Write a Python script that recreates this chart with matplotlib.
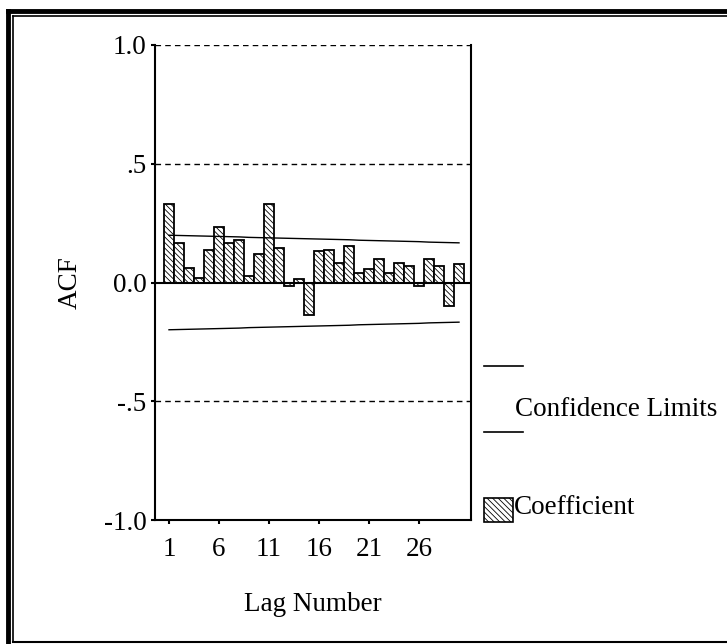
import numpy as np
import matplotlib
matplotlib.use("Agg")
import matplotlib.pyplot as plt
from matplotlib.lines import Line2D
from matplotlib.patches import Rectangle

plt.rcParams['font.family'] = ['Liberation Serif', 'DejaVu Serif']
plt.rcParams['hatch.linewidth'] = 0.6
plt.rcParams['hatch.color'] = '#555555'

# data
lags = list(range(1, 31))
acf = [0.329, 0.167, 0.063, 0.021, 0.137, 0.234, 0.167, 0.181, 0.028, 0.118,
       0.329, 0.146, -0.013, 0.014, -0.135, 0.132, 0.137, 0.081, 0.153, 0.042,
       0.056, 0.098, 0.042, 0.081, 0.070, -0.013, 0.098, 0.070, -0.101, 0.076]
upper = [0.199, 0.198, 0.197, 0.196, 0.195, 0.194, 0.193, 0.192, 0.190, 0.189,
         0.188, 0.187, 0.186, 0.185, 0.184, 0.183, 0.182, 0.181, 0.180, 0.178,
         0.177, 0.176, 0.175, 0.174, 0.173, 0.172, 0.170, 0.169, 0.168, 0.167]
lower = [-u for u in upper]
xticks = [1, 6, 11, 16, 21, 26]
yticks = [-1.0, -0.5, 0.0, 0.5, 1.0]
ytick_labels = ['-1.0', '-.5', '0.0', '.5', '1.0']

fs = 19.5

fig = plt.figure(figsize=(7.27, 6.44), dpi=100)
W, H = 727, 644
ax = fig.add_axes([155 / W, 1 - 520 / H, (471 - 155) / W, (520 - 45) / H])

ax.bar(lags, acf, width=1.0, facecolor='white', edgecolor='black',
       linewidth=1.3, hatch='\\\\\\\\\\\\', zorder=3)
ax.plot(lags, upper, color='black', lw=1.0, zorder=4)
ax.plot(lags, lower, color='black', lw=1.0, zorder=4)

ax.axhline(0, color='black', lw=1.5, zorder=5)
for yv in [0.5, -0.5, 1.0]:
    ax.axhline(yv, color='black', lw=1.0, ls=(0, (4, 3)), zorder=2)

ax.set_xlim(-0.4, 31.2)
ax.set_ylim(-1.0, 1.0)
ax.set_xticks(xticks)
ax.set_yticks(yticks)
ax.set_yticklabels(ytick_labels)
ax.tick_params(labelsize=fs, length=3, width=1.5, direction='out')
ax.tick_params(axis='y', pad=3)
ax.tick_params(axis='x', pad=9)
ax.spines['top'].set_visible(False)
for s in ['left', 'bottom', 'right']:
    ax.spines[s].set_linewidth(1.5)

ax.set_xlabel('Lag Number', fontsize=fs, labelpad=22)
ax.set_ylabel('ACF', fontsize=fs, labelpad=15)

# legend drawn by hand in figure pixels
def fx(x):
    return x / W

def fy(y):
    return 1 - y / H

fig.add_artist(Line2D([fx(484), fx(523)], [fy(366), fy(366)], color='black', lw=1.2))
fig.add_artist(Line2D([fx(484), fx(523)], [fy(432), fy(432)], color='black', lw=1.2))
fig.text(fx(515), fy(410), 'Confidence Limits', fontsize=fs, va='center', ha='left')
fig.add_artist(Rectangle((fx(484), fy(522)), 29 / W, 24 / H, facecolor='white',
                         edgecolor='black', lw=1.2, hatch='\\\\\\\\\\\\'))
fig.text(fx(514), fy(508), 'Coefficient', fontsize=fs, va='center', ha='left')

# double frame
fig.add_artist(Line2D([fx(8), fx(8)], [fy(11), fy(643)], color='black', lw=3.5))
fig.add_artist(Line2D([fx(8), fx(727)], [fy(11), fy(11)], color='black', lw=3.5))
fig.add_artist(Line2D([fx(12.5), fx(12.5)], [fy(15.5), fy(642)], color='black', lw=1.2))
fig.add_artist(Line2D([fx(12.5), fx(727)], [fy(15.5), fy(15.5)], color='black', lw=1.2))
fig.add_artist(Line2D([fx(12.5), fx(727)], [fy(642), fy(642)], color='black', lw=1.5))

fig.savefig('out.png', dpi=100)
